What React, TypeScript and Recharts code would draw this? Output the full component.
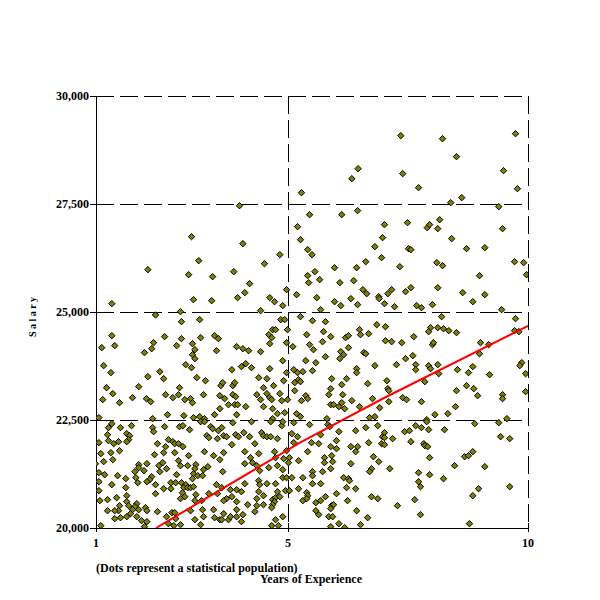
import React from 'react';
import { ScatterChart, Scatter, XAxis, YAxis, CartesianGrid } from 'recharts';

const xTicks = [1, 5, 10];
const yTicks = [20000, 22500, 25000, 27500, 30000];
const xTitle = 'Years of Experience';
const yTitle = 'S a l a r y';
const note = '(Dots represent a statistical population)';

// [years, salary]
const upperLeft: [number, number][] = [
  [5.28,27762],[3.99,27461],[5.45,27253],[5.20,26975],[2.99,26744],[4.06,26582],[5.26,26674],[5.41,26443],[5.50,26327],[4.83,26327],
  [3.14,26188],[4.51,26119],[2.08,25980],[3.87,25934],[2.93,25864],[3.43,25818],[5.41,25841],[5.43,25679],[4.20,25656],[4.97,25517],
  [4.10,25448],[5.18,25401],[3.03,25286],[3.41,25262],[3.95,25332],[4.62,25332],[4.72,25239],[4.89,25147],[1.33,25193],[2.76,25008],[4.43,25031],
];
const upperRight: [number, number][] = [
  [7.35,29082],[8.22,29012],[9.74,29128],[8.51,28596],[6.46,28318],[6.33,28086],[7.39,28202],[9.49,28272],[7.72,27878],[9.78,27855],
  [8.62,27647],[8.39,27531],[9.39,27438],[6.12,27253],[6.45,27346],[7.01,27022],[7.49,27068],[7.90,26952],[7.95,27022],[8.16,27137],
  [8.12,26929],[9.47,26929],[6.97,26721],[8.41,26698],[6.81,26512],[7.51,26466],[7.56,26443],[8.72,26466],[9.10,26489],[6.62,26165],
  [6.95,26258],[9.72,26165],[9.91,26142],[9.97,25864],[5.56,25934],[5.97,26026],[6.43,26026],[7.33,26049],[8.10,26142],[8.22,26073],
  [5.66,25748],[6.08,25679],[6.37,25725],[8.99,25841],[6.56,25517],[6.64,25424],[6.89,25355],[6.90,25309],[7.08,25424],[7.16,25517],
  [7.45,25471],[7.56,25563],[8.12,25563],[8.64,25448],[9.10,25401],[5.60,25332],[5.97,25239],[6.10,25147],[6.31,25309],[6.45,25170],
  [7.01,25193],[7.22,25123],[7.68,25147],[7.78,25100],[8.01,25170],[8.85,25239],[9.45,25054],[5.68,25054],
];
const midLeft: [number, number][] = [
  [2.24,24931],[2.78,24776],[3.16,24823],[1.33,24452],[2.43,24429],[2.78,24383],[3.18,24406],[3.47,24452],[3.55,24383],[1.12,24174],
  [1.39,24221],[2.20,24290],[2.16,24151],[2.01,24059],[2.68,24221],[3.01,24267],[3.06,24128],[3.01,24012],[3.06,23920],[3.51,24105],
  [3.93,24198],[1.16,23758],[1.31,23596],[2.87,23781],[2.99,23711],[2.33,23619],[2.08,23503],[2.41,23457],[3.10,23480],[3.28,23410],
  [3.83,23665],[1.22,23248],[1.89,23272],[2.74,23248],[3.60,23295],[3.64,23364],[3.85,23295],[3.89,23364],[1.35,23110],[2.45,23086],
  [2.72,23086],[3.24,23086],[3.58,23063],[3.85,23086],[3.91,23040],[1.14,22971],[1.49,22901],[1.76,23017],[2.05,22994],[2.14,22924],
  [2.60,23017],[2.85,22971],[2.97,22994],[3.01,22901],[3.68,22994],[3.76,22855],[3.89,22855],[3.95,22855],[3.58,22762],[2.49,22623],
  [2.83,22600],[3.03,22554],[3.16,22577],[3.26,22531],[3.47,22623],[3.93,22623],[1.06,22554],[2.18,22531],
];
const midCenter: [number, number][] = [
  [4.85,24823],[4.93,24823],[5.26,24892],[5.51,24799],[5.78,24776],[6.85,24707],[6.49,24591],[4.68,24591],[4.74,24591],[4.99,24591],
  [4.60,24475],[4.66,24406],[5.39,24475],[5.74,24545],[5.89,24429],[6.51,24475],[6.68,24498],[6.20,24406],[6.26,24452],[4.62,24267],
  [4.97,24290],[5.10,24198],[5.45,24244],[5.53,24128],[5.72,24313],[6.26,24174],[4.06,24151],[4.18,24105],[4.43,24082],[6.10,24082],
  [6.16,24012],[6.08,23920],[6.58,24059],[6.62,24035],[5.78,23966],[4.89,23873],[5.37,23873],[5.58,23827],[4.12,23804],[4.03,23735],
  [4.24,23711],[4.62,23688],[6.81,23758],[6.43,23688],[6.43,23596],[4.97,23596],[5.12,23665],[5.20,23596],[5.31,23619],[5.51,23642],
  [4.39,23480],[4.56,23457],[4.91,23410],[5.22,23434],[5.26,23387],[5.14,23364],[5.91,23457],[6.22,23457],[6.12,23318],[6.66,23341],
  [4.70,23295],[4.49,23248],[5.14,23179],[5.89,23225],[4.35,23086],[4.56,23110],[4.62,23017],[4.66,22971],[4.83,23110],[4.43,22971],
  [4.87,22948],[4.99,22971],[5.37,23063],[5.41,22994],[5.28,22948],[5.85,23086],[6.14,23086],[6.33,22948],[6.76,22994],[4.12,22809],
  [4.49,22809],[4.68,22762],[5.89,22855],[5.95,22855],[6.06,22809],[6.12,22901],[6.18,22762],[6.49,22809],[6.91,22785],[4.78,22647],
  [4.93,22670],[5.18,22647],[5.26,22577],[4.68,22531],[5.81,22531],[6.70,22554],[6.81,22577],
];
const midRight: [number, number][] = [
  [8.20,24892],[9.74,24846],[7.03,24660],[7.97,24637],[7.93,24545],[8.12,24637],[8.24,24614],[8.35,24568],[8.51,24522],[9.72,24568],
  [9.81,24545],[7.62,24429],[7.03,24336],[7.16,24313],[7.37,24290],[8.01,24244],[8.03,24290],[9.01,24290],[9.18,24244],[8.99,24035],
  [7.60,23989],[7.45,23920],[7.26,23781],[7.66,23781],[7.66,23665],[7.93,23758],[7.97,23688],[8.12,23781],[8.14,23572],[8.53,23665],
  [8.85,23735],[8.76,23596],[9.20,23549],[9.87,23827],[9.83,23758],[9.95,23572],[7.06,23410],[7.85,23387],[7.08,23225],[7.10,23179],
  [8.72,23295],[8.87,23225],[8.51,23179],[8.95,23063],[9.47,23086],[9.47,22994],[9.95,23156],[7.39,23017],[7.47,22971],[7.10,22924],
  [7.78,22924],[8.49,22809],[8.06,22623],[8.33,22647],[7.89,22508],[9.56,22531],
];
const lowLeft: [number, number][] = [
  [1.33,22415],[1.51,22323],[1.74,22369],[2.18,22323],[2.20,22230],[2.43,22346],[2.74,22346],[2.81,22369],[2.95,22276],[3.18,22461],
  [3.26,22461],[3.39,22346],[3.43,22299],[3.55,22253],[3.62,22323],[3.66,22137],[3.72,22114],[3.85,22438],[3.91,22160],[3.97,22114],
  [1.26,22323],[1.24,22160],[1.64,22184],[1.70,22137],[1.68,22045],[1.64,21998],[1.26,22022],[1.37,21952],[1.47,21998],[1.06,21975],
  [1.49,21790],[2.28,21952],[2.45,21883],[2.51,22045],[2.60,21998],[2.64,21952],[2.72,21952],[2.81,21883],[3.31,22137],[3.35,22091],
  [3.53,22068],[3.83,21929],[3.26,21767],[1.10,21721],[1.31,21744],[1.16,21536],[1.35,21582],[2.22,21698],[2.41,21744],[2.64,21744],
  [2.93,21674],[2.72,21559],[3.45,21674],[3.66,21744],[3.58,21582],[0.99,21489],[1.89,21466],[1.89,21397],[2.06,21489],[1.81,21304],
  [2.00,21327],[2.31,21443],[2.39,21512],[2.47,21373],[2.76,21443],[2.91,21443],[3.08,21466],[3.06,21373],[3.24,21350],[3.33,21420],
  [1.06,21281],[3.64,21304],[1.18,21234],[1.45,21211],[1.83,21165],[2.16,21188],[2.12,21119],[2.06,21072],[2.33,21304],[2.68,21234],
  [3.03,21258],[3.12,21211],[3.22,21211],[3.01,21142],[1.06,21072],[1.33,21003],[1.62,21142],[1.62,20934],[1.87,21049],[2.24,21003],
  [2.24,20795],[2.41,20910],[2.56,21049],[2.56,20910],[2.66,21049],[2.78,21049],[2.87,21003],[2.83,20934],[2.91,20934],[2.97,20934],
  [3.03,20957],[2.80,20818],[2.76,20679],[2.85,20725],[3.08,20772],[3.51,21003],[3.62,20934],[3.80,20887],[3.93,20887],[1.06,20864],
  [3.35,20795],[3.53,20795],[1.24,20656],[1.43,20702],[1.64,20748],[1.08,20633],[1.64,20610],[1.68,20517],[1.49,20517],[1.47,20401],
  [1.39,20401],[1.24,20401],[1.85,20563],[1.81,20494],[1.76,20424],[1.89,20424],[2.03,20471],[2.06,20401],[1.72,20332],[1.85,20262],
  [1.64,20262],[1.51,20239],[1.39,20216],[1.95,20170],[2.06,20147],[2.01,20031],[2.28,20378],[2.47,20262],[2.58,20355],[2.64,20355],
  [2.66,20216],[2.76,20077],[2.62,20054],[2.51,20100],[2.97,20401],[3.06,20633],[3.20,20633],[3.22,20424],[3.24,20262],[3.06,20193],
  [3.18,20077],[3.45,20424],[3.47,20239],[3.58,20193],[3.62,20193],[3.66,20332],[3.76,20193],[3.80,20262],[3.93,20424],[3.93,20262],
  [3.72,20679],[3.83,20725],[3.66,20633],[3.93,20610],[1.10,20054],
];
const lowCenter: [number, number][] = [
  [4.24,22461],[4.64,22461],[4.87,22369],[4.89,22461],[5.12,22438],[5.45,22392],[5.83,22392],[5.87,22346],[6.62,22323],[6.87,22369],
  [4.08,22207],[4.20,22114],[4.45,22207],[4.49,22137],[4.56,22114],[4.64,22114],[4.78,22068],[5.08,22184],[5.20,22114],[5.68,22160],
  [6.06,22230],[6.41,22253],[6.97,22114],[4.31,21952],[5.12,21975],[5.49,21975],[5.64,21952],[5.89,21883],[6.01,22022],[6.01,21836],
  [6.31,21883],[6.45,21883],[6.41,21767],[6.68,21975],[6.95,21952],[4.10,21767],[4.39,21721],[4.72,21767],[4.97,21790],[5.41,21767],
  [4.22,21628],[4.74,21628],[4.91,21605],[5.03,21628],[5.01,21512],[5.22,21559],[5.76,21628],[5.76,21512],[5.91,21674],[5.93,21536],
  [5.89,21373],[6.31,21489],[6.78,21651],[6.89,21536],[6.74,21373],[6.70,21304],[4.10,21489],[4.26,21512],[4.35,21443],[4.41,21327],
  [4.60,21397],[4.78,21443],[4.89,21350],[5.51,21304],[5.51,21211],[5.72,21304],[4.10,21026],[4.39,21096],[4.41,21003],[4.56,21026],
  [4.74,21026],[4.89,21165],[4.97,21165],[5.08,21165],[5.31,21165],[5.51,21026],[5.68,21026],[6.16,21165],[6.26,21142],[6.28,21096],
  [6.22,20934],[6.41,20910],[4.03,20841],[4.39,20841],[4.35,20679],[4.49,20748],[4.78,20841],[4.95,20864],[5.03,20864],[5.22,20910],
  [5.39,20818],[5.41,20748],[5.31,20633],[5.39,20679],[5.68,20633],[5.58,20586],[5.78,20725],[6.01,20795],[6.24,20633],[6.74,20725],
  [6.87,20679],[4.16,20540],[4.35,20517],[4.49,20540],[4.68,20656],[4.74,20702],[4.72,20610],[4.68,20540],[4.66,20471],[4.83,20725],
  [4.31,20378],[4.06,20309],[5.58,20401],[5.64,20309],[5.91,20517],[5.95,20540],[5.89,20447],[5.85,20262],[5.93,20262],[6.43,20401],
  [4.89,20262],[4.74,20193],[4.03,20147],[4.66,20054],[4.80,20054],[5.89,20031],[6.06,20100],[6.18,20008],[6.51,20077],[6.66,20239],
];
const lowRight: [number, number][] = [
  [7.89,22461],[8.89,22415],[9.39,22438],[7.66,22369],[7.78,22323],[7.93,22276],[8.26,22276],[7.43,22230],[7.53,22253],[7.01,22207],
  [7.01,22091],[7.18,22068],[7.01,21929],[7.56,21998],[7.83,21952],[7.85,21906],[7.91,21883],[9.43,22114],[9.62,22068],[7.95,21628],
  [8.68,21651],[8.76,21674],[8.85,21767],[8.47,21443],[9.10,21420],[7.12,21373],[7.72,21281],[7.95,21234],[8.24,21142],[7.72,21072],
  [7.76,20957],[8.97,20910],[9.62,20957],[8.85,20748],[7.64,20656],[7.28,20517],[7.76,20309],[8.78,20100],
];
// red trend line
const trendPoints: [number, number][] = [[2.25,20000],[5.25,21975],[7.0,23009],[10.0,24680]];

const toObj = (arr: [number, number][]) => arr.map(([x, y]) => ({ x, y }));
const population = [upperLeft, upperRight, midLeft, midCenter, midRight, lowLeft, lowCenter, lowRight].flatMap(toObj);
const trend = toObj(trendPoints);

const FONT = '"Liberation Serif", "Times New Roman", serif';
const fmt = (v: number) => v.toLocaleString('en-US');

const Diamond = (props: any) => {
  const { cx, cy } = props;
  if (cx == null || cy == null) return <g />;
  const r = 3.2;
  return (
    <path
      d={`M${cx},${cy - r}L${cx + r},${cy}L${cx},${cy + r}L${cx - r},${cy}Z`}
      fill="#808000"
      stroke="#000"
      strokeWidth={1}
    />
  );
};

const NoShape = () => <g />;

const XTick = (props: any) => {
  const { x, y, payload } = props;
  return (
    <g>
      <line x1={x} x2={x} y1={y - 5} y2={y + 4} stroke="#000" shapeRendering="crispEdges" />
      <text x={x} y={y + 19} textAnchor="middle" fontFamily={FONT} fontWeight="bold" fontSize={12} fill="#000">
        {payload.value}
      </text>
    </g>
  );
};

const YTick = (props: any) => {
  const { x, y, payload } = props;
  return (
    <g>
      <line x1={x - 6} x2={x} y1={y} y2={y} stroke="#000" shapeRendering="crispEdges" />
      <text x={x - 7} y={y + 4} textAnchor="end" fontFamily={FONT} fontWeight="bold" fontSize={12} fill="#000">
        {fmt(payload.value)}
      </text>
    </g>
  );
};

export default function App() {
  return (
    <div style={{ position: 'relative', width: 592, height: 592, background: '#fff' }}>
      <ScatterChart width={592} height={592} margin={{ top: 88, right: 72, bottom: 32, left: 28 }}>
        <CartesianGrid stroke="#000" strokeDasharray="18 6" shapeRendering="crispEdges" />
        <XAxis
          type="number"
          dataKey="x"
          domain={[1, 10]}
          ticks={xTicks}
          allowDataOverflow
          height={40}
          tickSize={0}
          tickMargin={0}
          tickLine={false}
          axisLine={{ stroke: '#000', shapeRendering: 'crispEdges' } as any}
          tick={XTick}
          interval={0}
        />
        <YAxis
          type="number"
          dataKey="y"
          domain={[20000, 30000]}
          ticks={yTicks}
          allowDataOverflow
          width={60}
          tickSize={0}
          tickMargin={0}
          tickLine={false}
          axisLine={{ stroke: '#000', shapeRendering: 'crispEdges' } as any}
          tick={YTick}
          interval={0}
        />
        <Scatter data={population} shape={Diamond} isAnimationActive={false} />
        <Scatter
          data={trend}
          shape={NoShape}
          line={{ stroke: '#ff0000', strokeWidth: 2 }}
          isAnimationActive={false}
        />
      </ScatterChart>
      <div
        style={{
          position: 'absolute', left: 88, top: 553, lineHeight: '14px', whiteSpace: 'nowrap',
          fontFamily: FONT, fontWeight: 'bold', fontSize: 12, color: '#000',
        }}
      >
        {note}
      </div>
      <div
        style={{
          position: 'absolute', left: 203, width: 200, top: 564, lineHeight: '14px', textAlign: 'center',
          fontFamily: FONT, fontWeight: 'bold', fontSize: 12, color: '#000',
        }}
      >
        {xTitle}
      </div>
      <div
        style={{
          position: 'absolute', left: 25.3 - 50, top: 308.7 - 6, width: 100, height: 12, lineHeight: '12px',
          textAlign: 'center', transform: 'rotate(-90deg)', transformOrigin: '50% 50%', whiteSpace: 'nowrap',
          fontFamily: FONT, fontWeight: 'bold', fontSize: 10, color: '#000',
        }}
      >
        {yTitle}
      </div>
    </div>
  );
}
